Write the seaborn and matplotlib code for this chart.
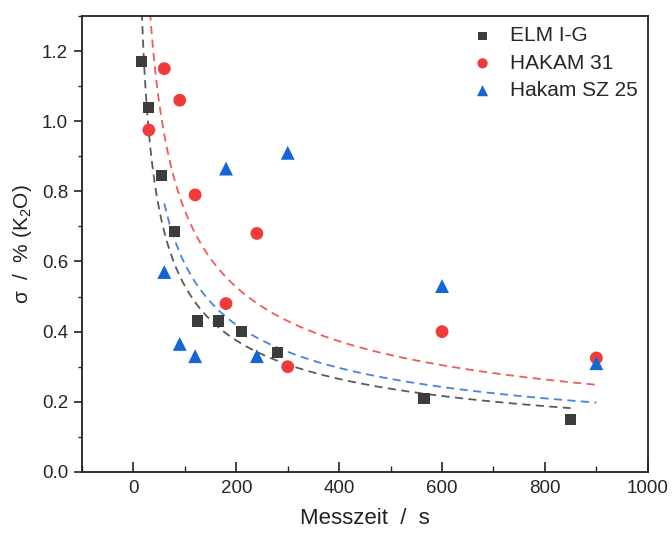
import numpy as np
import pandas as pd
import matplotlib.pyplot as plt
import seaborn as sns
from matplotlib.ticker import MultipleLocator

samples = ['ELM I-G', 'HAKAM 31', 'Hakam SZ 25']

elm_t = [15, 30, 55, 80, 125, 165, 210, 280, 565, 850]
elm_sigma = [1.17, 1.04, 0.845, 0.685, 0.43, 0.43, 0.40, 0.34, 0.21, 0.15]

hakam31_t = [30, 60, 90, 120, 180, 240, 300, 600, 900]
hakam31_sigma = [0.975, 1.15, 1.06, 0.79, 0.48, 0.68, 0.30, 0.40, 0.325]

sz25_t = [60, 90, 120, 180, 240, 300, 600, 900]
sz25_sigma = [0.57, 0.365, 0.33, 0.865, 0.33, 0.91, 0.53, 0.31]

fit_a = [5.3, 7.45, 5.93]
fit_range = [(13, 850), (28, 900), (60, 900)]

colors = ['#3c3c3c', '#f23a3a', '#1565d6']
line_colors = ['#5a5a5a', '#f05a5a', '#3f86e4']
markers = ['s', 'o', '^']
sizes = [65, 85, 100]

df = pd.concat([
    pd.DataFrame({'t': elm_t, 'sigma': elm_sigma, 'Probe': samples[0]}),
    pd.DataFrame({'t': hakam31_t, 'sigma': hakam31_sigma, 'Probe': samples[1]}),
    pd.DataFrame({'t': sz25_t, 'sigma': sz25_sigma, 'Probe': samples[2]}),
])

sns.set_style('white')
plt.rcParams['font.family'] = ['Liberation Sans', 'DejaVu Sans']
plt.rcParams['mathtext.fontset'] = 'custom'
plt.rcParams['mathtext.rm'] = 'Liberation Sans'
plt.rcParams['mathtext.it'] = 'Liberation Sans:italic'

fig = plt.figure(figsize=(6.72, 5.35), dpi=100)
ax = fig.add_axes([0.122, 0.118, 0.842, 0.852])

# Fitkurven
for i, name in enumerate(samples):
    t_fit = np.linspace(fit_range[i][0], fit_range[i][1], 300)
    fit_df = pd.DataFrame({'t': t_fit, 'sigma': fit_a[i] / np.sqrt(t_fit)})
    sns.lineplot(data=fit_df, x='t', y='sigma', ax=ax, color=line_colors[i],
                 linestyle=(0, (4.5, 3)), linewidth=1.3, legend=False)

# Messpunkte
for i, name in enumerate(samples):
    sub = df[df['Probe'] == name]
    sns.scatterplot(data=sub, x='t', y='sigma', ax=ax, color=colors[i],
                    marker=markers[i], s=sizes[i], edgecolor='none',
                    label=name, zorder=3)

ax.set_xlim(-100, 1000)
ax.set_ylim(0, 1.3)
ax.xaxis.set_major_locator(MultipleLocator(200))
ax.xaxis.set_minor_locator(MultipleLocator(100))
ax.yaxis.set_major_locator(MultipleLocator(0.2))
ax.yaxis.set_minor_locator(MultipleLocator(0.1))
ax.yaxis.set_major_formatter(plt.FuncFormatter(lambda v, p: f'{v:.1f}'))

ax.tick_params(axis='x', which='major', direction='in', length=7, width=1.2,
               labelsize=13.5, pad=6, color='#222222')
ax.tick_params(axis='x', which='minor', direction='in', length=4, width=1.0,
               color='#222222')
ax.tick_params(axis='y', which='major', direction='out', length=6, width=1.2,
               labelsize=13.5, pad=4, color='#222222')
ax.tick_params(axis='y', which='minor', direction='out', length=3, width=1.0,
               color='#222222')
ax.tick_params(bottom=True, left=True, top=False, right=False, which='both')

for sp in ax.spines.values():
    sp.set_linewidth(1.3)
    sp.set_color('#222222')

ax.set_xlabel('Messzeit  /  s', fontsize=16, labelpad=8, color='#222222')
ax.set_ylabel(r'σ  /  % (K$_2$O)', fontsize=15, labelpad=6, color='#222222')

ax.legend(loc='upper right', bbox_to_anchor=(1.0, 1.0), frameon=False,
          fontsize=15, handletextpad=0.3, labelspacing=0.4,
          borderaxespad=0.1, markerscale=0.8)

fig.savefig('out.png', dpi=100)
